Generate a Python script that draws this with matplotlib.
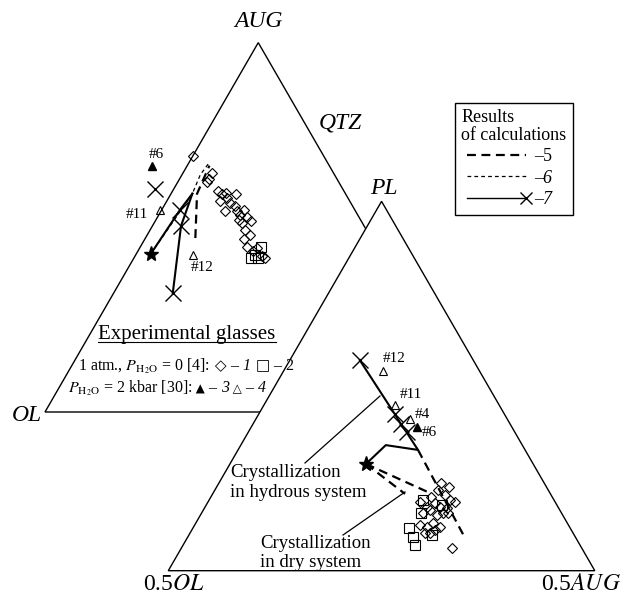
import numpy as np
import matplotlib
matplotlib.use("Agg")
import matplotlib.pyplot as plt
from matplotlib.lines import Line2D
from matplotlib.offsetbox import TextArea, HPacker, AnnotationBbox

plt.rcParams['font.family'] = ['Liberation Serif', 'DejaVu Sans']
plt.rcParams['mathtext.fontset'] = 'stix'

# ---- left diagram OL - AUG - QTZ, points as (AUG, QTZ) fractions ----
L_glass_1atm = [(0.692, 0.001), (0.647, 0.068), (0.631, 0.068), (0.622, 0.069),
                (0.597, 0.108), (0.591, 0.119), (0.594, 0.128), (0.591, 0.153),
                (0.579, 0.138), (0.570, 0.126), (0.567, 0.151), (0.557, 0.168),
                (0.543, 0.151), (0.543, 0.179), (0.546, 0.193), (0.534, 0.191),
                (0.529, 0.209), (0.516, 0.225), (0.520, 0.194), (0.512, 0.206),
                (0.493, 0.223), (0.480, 0.241), (0.468, 0.233), (0.448, 0.250),
                (0.437, 0.269), (0.444, 0.275), (0.417, 0.308), (0.421, 0.298)]
L_glass_sq = [(0.447, 0.282), (0.417, 0.275), (0.417, 0.290), (0.426, 0.280)]
L_wet_filled = [(0.665, -0.082)]                 # #6
L_wet_open = [(0.548, -0.004), (0.424, 0.135)]   # #11, #12
L_start = [(0.428, 0.034)]
L_hyd_a = [(0.428, 0.034), (0.548, 0.043), (0.591, 0.050)]
L_hyd_b = [(0.321, 0.139), (0.504, 0.067), (0.591, 0.050)]
L_hyd_x = [(0.548, 0.043), (0.504, 0.067), (0.321, 0.139), (0.604, -0.044)]
L_dry_5 = [(0.471, 0.117), (0.591, 0.061), (0.667, 0.052)]
L_dry_6 = [(0.428, 0.034), (0.591, 0.050), (0.642, 0.043), (0.672, 0.047)]

# ---- right diagram 0.5OL - PL - 0.5AUG, points as (PL, 0.5AUG) fractions ----
R_glass_1atm = [(0.237, 0.521), (0.227, 0.544), (0.218, 0.524), (0.205, 0.546),
                (0.191, 0.565), (0.185, 0.579), (0.200, 0.517), (0.182, 0.534),
                (0.173, 0.550), (0.169, 0.568), (0.155, 0.567), (0.151, 0.554),
                (0.155, 0.579), (0.164, 0.531), (0.173, 0.519), (0.187, 0.497),
                (0.155, 0.520), (0.128, 0.557), (0.119, 0.577), (0.119, 0.546),
                (0.124, 0.528), (0.101, 0.563), (0.110, 0.570), (0.061, 0.634),
                (0.101, 0.551)]
R_glass_sq = [(0.191, 0.501), (0.155, 0.514), (0.115, 0.507), (0.092, 0.528),
              (0.070, 0.543), (0.097, 0.569), (0.178, 0.552)]
R_wet_filled = [(0.388, 0.390)]                                 # #6
R_wet_open = [(0.541, 0.232), (0.448, 0.307), (0.410, 0.362)]   # #12, #11, #4
R_start = [(0.289, 0.319)]
R_hyd = [(0.289, 0.319), (0.340, 0.340), (0.327, 0.422), (0.375, 0.371),
         (0.397, 0.347), (0.424, 0.319), (0.570, 0.164)]
R_hyd_x = [(0.375, 0.371), (0.397, 0.347), (0.424, 0.319), (0.570, 0.164)]
R_dry_tail = [(0.327, 0.422), (0.089, 0.651)]
R_dry_a = [(0.289, 0.319), (0.213, 0.502)]
R_dry_b = [(0.289, 0.319), (0.208, 0.451)]

SIDE = 426.5
LEFT_ORIGIN = (45.0, 412.0)
RIGHT_ORIGIN = (168.3, 570.7)
CORNERS = [(0, 0), (1, 0), (0, 1), (0, 0)]


def to_xy(pts, origin):
    pts = np.atleast_2d(np.asarray(pts, float))
    top, right = pts[:, 0], pts[:, 1]
    x = origin[0] + SIDE * (right + top / 2)
    y = origin[1] - SIDE * top * np.sqrt(3) / 2
    return x, y


fig = plt.figure(figsize=(6.26, 5.95), dpi=100)
ax = fig.add_axes([0, 0, 1, 1])
ax.set_xlim(0, 626)
ax.set_ylim(595, 0)
ax.axis('off')

# triangles (right one is opaque and hides the rest of the left one)
for origin, face, z in [(LEFT_ORIGIN, 'none', 1), (RIGHT_ORIGIN, 'white', 2)]:
    x, y = to_xy(CORNERS, origin)
    ax.fill(x, y, facecolor=face, edgecolor='black', lw=1.0, zorder=z)

open_kw = dict(ls='none', mfc='none', mec='black', mew=0.8, zorder=4)
dry5_kw = dict(color='black', lw=1.6, dashes=(4, 2.5), zorder=3)
dry6_kw = dict(color='black', lw=0.9, dashes=(3, 2.5), zorder=3)

for org, diam, sq, wf, wo, st, x_pts in [
        (LEFT_ORIGIN, L_glass_1atm, L_glass_sq, L_wet_filled, L_wet_open, L_start, L_hyd_x),
        (RIGHT_ORIGIN, R_glass_1atm, R_glass_sq, R_wet_filled, R_wet_open, R_start, R_hyd_x)]:
    ax.plot(*to_xy(diam, org), marker='D', ms=5, **open_kw)
    ax.plot(*to_xy(sq, org), marker='s', ms=6.5, **open_kw)
    ax.plot(*to_xy(wo, org), marker='^', ms=5.5, **open_kw)
    ax.plot(*to_xy(wf, org), marker='^', ms=6, ls='none', color='black', zorder=4)
    ax.plot(*to_xy(x_pts, org), marker='x', ms=11, mew=1.0, ls='none', color='black', zorder=5)
    ax.plot(*to_xy(st, org), marker='*', ms=11, ls='none', color='black', zorder=5)

# calculated paths, left
ax.plot(*to_xy(L_hyd_a, LEFT_ORIGIN), color='black', lw=1.5, zorder=3)
ax.plot(*to_xy(L_hyd_b, LEFT_ORIGIN), color='black', lw=1.5, zorder=3)
ax.plot(*to_xy(L_dry_5, LEFT_ORIGIN), **dry5_kw)
ax.plot(*to_xy(L_dry_6, LEFT_ORIGIN), **dry6_kw)

# calculated paths, right
ax.plot(*to_xy(R_hyd, RIGHT_ORIGIN), color='black', lw=1.5, zorder=3)
ax.plot(*to_xy(R_dry_tail, RIGHT_ORIGIN), **dry5_kw)
ax.plot(*to_xy(R_dry_a, RIGHT_ORIGIN), **dry5_kw)
ax.plot(*to_xy(R_dry_b, RIGHT_ORIGIN), **dry5_kw)

# sample numbers
lab_kw = dict(textcoords='offset pixels', ha='center', va='center', fontsize=11, zorder=6)
for txt, pt, org, off in [('#6', L_wet_filled[0], LEFT_ORIGIN, (5, 12)),
                          ('#11', L_wet_open[0], LEFT_ORIGIN, (-23, -5)),
                          ('#12', L_wet_open[1], LEFT_ORIGIN, (9, -12)),
                          ('#12', R_wet_open[0], RIGHT_ORIGIN, (12, 12)),
                          ('#11', R_wet_open[1], RIGHT_ORIGIN, (16, 11)),
                          ('#4', R_wet_open[2], RIGHT_ORIGIN, (12, 5)),
                          ('#6', R_wet_filled[0], RIGHT_ORIGIN, (12, -5))]:
    x, y = to_xy(pt, org)
    ax.annotate(txt, (x[0], y[0]), xytext=off, **lab_kw)

# vertex labels
vk = dict(fontsize=17, ha='center', va='baseline')
ax.text(258, 27, 'AUG', style='italic', **vk)
ax.text(340, 128, 'QTZ', style='italic', **vk)
ax.text(384, 194, 'PL', style='italic', **vk)
ax.text(27, 421, 'OL', style='italic', **vk)
ax.text(174, 590, r'0.5$\mathit{OL}$', **vk)
ax.text(581, 590, r'0.5$\mathit{AUG}$', **vk)

# experimental glasses key
eg = ax.text(187, 339, 'Experimental glasses', fontsize=15, ha='center', va='baseline')


def key_line(parts, xy):
    boxes = []
    for s, p in parts:
        props = dict(fontsize=11.5)
        props.update(p)
        boxes.append(TextArea(s, textprops=props))
    pack = HPacker(children=boxes, align='baseline', pad=0, sep=0)
    ax.add_artist(AnnotationBbox(pack, xy, box_alignment=(0, 0.5), frameon=False, pad=0))


big_sym = {'family': 'DejaVu Sans', 'fontsize': 11}
small_sym = {'family': 'DejaVu Sans', 'fontsize': 8.5}
key_line([(r'1 atm., $P_{\mathrm{H_2O}}$ = 0 [4]:', {}), (' ◇', big_sym), (' – ', {}),
          ('1', {'style': 'italic'}), (' □', big_sym), (' – 2', {})], (78, 366))
key_line([(r'$P_{\mathrm{H_2O}}$ = 2 kbar [30]:', {}), (' ▲', small_sym), (' – ', {}),
          ('3', {'style': 'italic'}), (' △', small_sym), (' – ', {}),
          ('4', {'style': 'italic'})], (68, 388))

# crystallization notes with leaders
nk = dict(fontsize=13.5, ha='left', va='baseline')
ax.text(230, 477, 'Crystallization', **nk)
ax.text(230, 497, 'in hydrous system', **nk)
ax.text(260, 548, 'Crystallization', **nk)
ax.text(260, 567, 'in dry system', **nk)
ax.plot([305, 380], [463, 396], color='black', lw=0.9, zorder=3)
ax.plot([343, 405], [535, 492], color='black', lw=0.9, zorder=3)

# legend of calculated paths
h5 = Line2D([], [], color='black', lw=1.6, dashes=(4, 2.5))
h6 = Line2D([], [], color='black', lw=0.9, dashes=(3, 2.5))
h7 = Line2D([], [], color='black', lw=1.0, marker='x', ms=9, mew=1.0)
leg = ax.legend([h5, h6, h7], ['–5', '–6', '–7'], title='Results\nof calculations',
                loc='upper left', bbox_to_anchor=(455 / 626, 1 - 102.7 / 595),
                bbox_transform=fig.transFigure, alignment='left', fontsize=13,
                title_fontsize=13, fancybox=False, edgecolor='black', framealpha=1,
                handlelength=3.9, handletextpad=0.15, numpoints=2, labelspacing=0.25,
                borderpad=0.35, borderaxespad=0)
leg.get_frame().set_linewidth(1.0)
leg.get_title().set_linespacing(1.05)
for t in leg.get_texts()[1:]:
    t.set_fontstyle('italic')
# keep only the right-end cross on the solid key line
for ln in leg.findobj(Line2D):
    if ln.get_marker() == 'x':
        ln.set_markevery([1])

# underline the key title
fig.canvas.draw()
bb = eg.get_window_extent().transformed(ax.transData.inverted())
ax.plot([bb.x0, bb.x1], [341.5, 341.5], color='black', lw=0.8)

fig.savefig('out.png', dpi=100)
